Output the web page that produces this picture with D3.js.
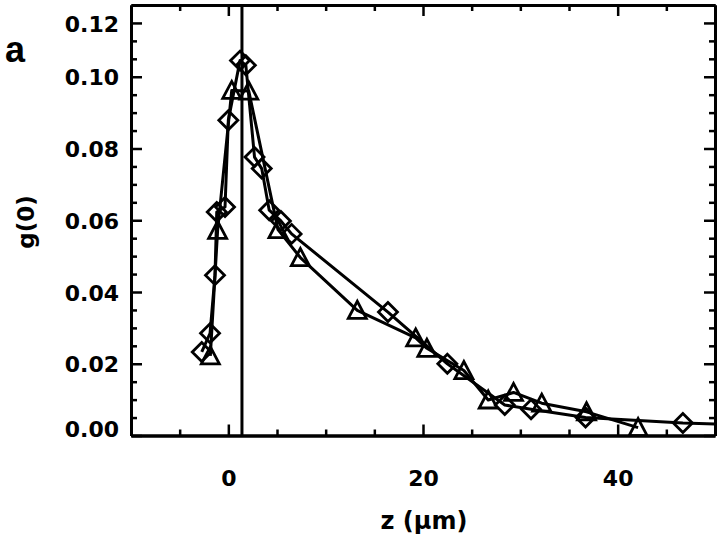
<!DOCTYPE html>
<html>
<head>
<meta charset="utf-8">
<script src="https://cdn.jsdelivr.net/npm/d3@7"></script>
<style>
  html, body { margin: 0; padding: 0; background: #fff; }
  svg { display: block; }
</style>
</head>
<body>
<script>
// ---- data ----
const diamondZ = [-2.73, -1.88, -1.37, -1.19, -0.34, 0.0, 1.2, 1.8, 2.69, 3.43, 4.2, 5.4, 6.5, 16.4, 22.5, 28.4, 31.1, 36.7, 46.7, 55];
const diamondG = [0.0233, 0.0285, 0.0447, 0.0623, 0.0637, 0.0879, 0.1045, 0.1032, 0.0776, 0.0744, 0.0628, 0.0598, 0.0562, 0.0344, 0.0200, 0.0085, 0.0073, 0.0050, 0.0035, 0.0028];
const triangleZ = [-1.85, -1.1, 0.35, 2.1, 5.1, 7.4, 13.25, 19.25, 20.4, 24.2, 26.7, 29.3, 32.2, 36.8, 42.1];
const triangleG = [0.0222, 0.0572, 0.0962, 0.0960, 0.0574, 0.0496, 0.0349, 0.0272, 0.0243, 0.0181, 0.0099, 0.0120, 0.0090, 0.0066, 0.0022];
const zMark = 1.4;

const xDomain = [-10, 50];
const yDomain = [0, 0.12];
const xMajorTicks = [0, 20, 40];
const xMinorTicks = [-5, 5, 10, 15, 25, 30, 35, 45];
const yMajorTicks = [0, 0.02, 0.04, 0.06, 0.08, 0.10, 0.115];
const yTickLabels = ["0.00", "0.02", "0.04", "0.06", "0.08", "0.10", "0.12"];
const yMinorTicks = [0.005, 0.01, 0.015, 0.025, 0.03, 0.035, 0.045, 0.05, 0.055, 0.065, 0.07, 0.075, 0.085, 0.09, 0.095, 0.105, 0.11];
const panelLabel = "a";
const xTitle = "z (\u03bcm)";
const yTitle = "g(0)";

// ---- layout ----
const W = 720, H = 540;
const L = 131, R = 715, T = 5, B = 435.5;
const svg = d3.select("body").append("svg").attr("width", W).attr("height", H);

const x = d3.scaleLinear().domain(xDomain).range([L, R]);
const y = d3.scaleLinear().domain(yDomain).range([B, T]);

const tickFont = "'DejaVu Sans', sans-serif";

function styleAxis(g) {
  g.selectAll("path.domain").attr("stroke", "#000").attr("stroke-width", 3);
  g.selectAll(".tick line").attr("stroke", "#000").attr("stroke-width", 2.5);
}

// bottom axis
const gb = svg.append("g").attr("transform", `translate(0,${B})`)
  .call(d3.axisBottom(x).tickValues(xMajorTicks).tickSize(-11).tickSizeOuter(0).tickPadding(35).tickFormat(d3.format("d")));
styleAxis(gb);
gb.selectAll("text").attr("font-family", tickFont).attr("font-weight", "bold").attr("font-size", 22).attr("fill", "#000");
const gbm = svg.append("g").attr("transform", `translate(0,${B})`)
  .call(d3.axisBottom(x).tickValues(xMinorTicks).tickSize(-6).tickSizeOuter(0).tickFormat(""));
styleAxis(gbm);

// top axis
const gt = svg.append("g").attr("transform", `translate(0,${T})`)
  .call(d3.axisTop(x).tickValues(xMajorTicks).tickSize(-11).tickSizeOuter(0).tickFormat(""));
styleAxis(gt);
const gtm = svg.append("g").attr("transform", `translate(0,${T})`)
  .call(d3.axisTop(x).tickValues(xMinorTicks).tickSize(-6).tickSizeOuter(0).tickFormat(""));
styleAxis(gtm);

// left axis
const gl = svg.append("g").attr("transform", `translate(${L},0)`)
  .call(d3.axisLeft(y).tickValues(yMajorTicks).tickSize(-11).tickSizeOuter(0).tickPadding(12)
    .tickFormat((d, i) => yTickLabels[i]));
styleAxis(gl);
gl.selectAll("text").attr("font-family", tickFont).attr("font-weight", "bold").attr("font-size", 22)
  .attr("fill", "#000").attr("dy", d => d === 0 ? "0.05em" : "0.37em");
const glm = svg.append("g").attr("transform", `translate(${L},0)`)
  .call(d3.axisLeft(y).tickValues(yMinorTicks).tickSize(-6).tickSizeOuter(0).tickFormat(""));
styleAxis(glm);

// right axis
const gr = svg.append("g").attr("transform", `translate(${R},0)`)
  .call(d3.axisRight(y).tickValues(yMajorTicks).tickSize(-11).tickSizeOuter(0).tickFormat(""));
styleAxis(gr);
const grm = svg.append("g").attr("transform", `translate(${R},0)`)
  .call(d3.axisRight(y).tickValues(yMinorTicks).tickSize(-6).tickSizeOuter(0).tickFormat(""));
styleAxis(grm);

// clip
svg.append("clipPath").attr("id", "plotclip").append("rect")
  .attr("x", L).attr("y", T).attr("width", R - L).attr("height", B - T);

// vertical marker line
svg.append("line")
  .attr("x1", x(zMark)).attr("x2", x(zMark)).attr("y1", y(yDomain[1])).attr("y2", y(yDomain[0]))
  .attr("stroke", "#000").attr("stroke-width", 3);

const diamonds = diamondZ.map((z, i) => ({ z, g: diamondG[i] }));
const triangles = triangleZ.map((z, i) => ({ z, g: triangleG[i] }));

const line = d3.line().x(d => x(d.z)).y(d => y(d.g));
const plot = svg.append("g");
plot.append("path").datum(diamonds).attr("d", line).attr("clip-path", "url(#plotclip)")
  .attr("fill", "none").attr("stroke", "#000").attr("stroke-width", 3).attr("stroke-linejoin", "round");
plot.append("path").datum(triangles).attr("d", line).attr("clip-path", "url(#plotclip)")
  .attr("fill", "none").attr("stroke", "#000").attr("stroke-width", 3).attr("stroke-linejoin", "round");

const inDomain = d => d.z >= xDomain[0] && d.z <= xDomain[1];
const diamondPath = "M0,-9.5L9.5,0L0,9.5L-9.5,0Z";
const trianglePath = "M-9,8L9,8L0,-9Z";

plot.selectAll("path.dia").data(diamonds.filter(inDomain)).join("path")
  .attr("class", "dia")
  .attr("transform", d => `translate(${x(d.z)},${y(d.g)})`)
  .attr("d", diamondPath).attr("fill", "none").attr("stroke", "#000").attr("stroke-width", 2.8)
  .attr("stroke-linejoin", "miter");
plot.selectAll("path.tri").data(triangles.filter(inDomain)).join("path")
  .attr("class", "tri")
  .attr("transform", d => `translate(${x(d.z)},${y(d.g)})`)
  .attr("d", trianglePath).attr("fill", "none").attr("stroke", "#000").attr("stroke-width", 2.8)
  .attr("stroke-linejoin", "miter");

// titles
svg.append("text").attr("x", (L + R) / 2 + 1).attr("y", 529)
  .attr("text-anchor", "middle").attr("font-family", tickFont).attr("font-weight", "bold")
  .attr("font-size", 24).attr("fill", "#000").text(xTitle);
svg.append("text").attr("transform", "translate(34,222) rotate(-90)")
  .attr("text-anchor", "middle").attr("font-family", tickFont).attr("font-weight", "bold")
  .attr("font-size", 23).attr("fill", "#000").text(yTitle);
svg.append("text").attr("x", 5).attr("y", 62)
  .attr("font-family", "'Liberation Sans', Arial, sans-serif").attr("font-weight", "bold")
  .attr("font-size", 36).attr("fill", "#000").text(panelLabel);
</script>
</body>
</html>
